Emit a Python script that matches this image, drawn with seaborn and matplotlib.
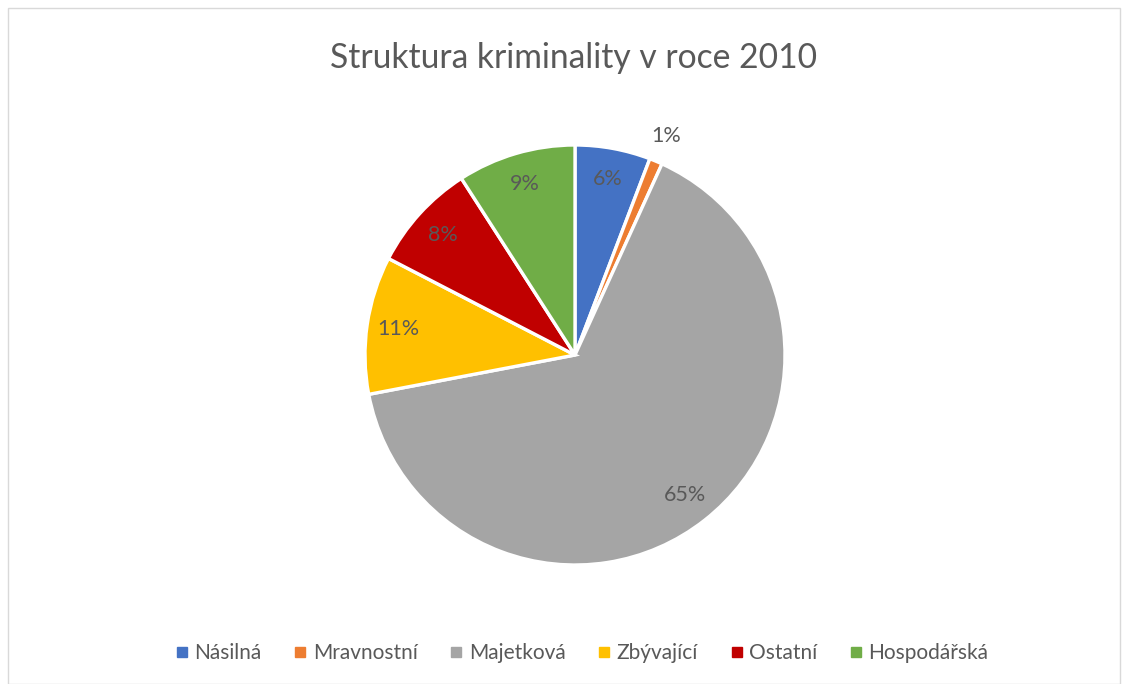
import matplotlib
matplotlib.use("Agg")
import seaborn as sns
from matplotlib import pyplot as plt
from matplotlib.patches import Rectangle
from matplotlib.lines import Line2D

# data (percent share)
categories = ['Násilná', 'Mravnostní', 'Majetková', 'Zbývající', 'Ostatní', 'Hospodářská']
shares = [5.8, 1.0, 65.2, 10.6, 8.3, 9.1]
colors = ['#4472C4', '#ED7D31', '#A5A5A5', '#FFC000', '#C00000', '#70AD47']
title = 'Struktura kriminality v roce 2010'

sns.set_theme(style='white')
plt.rcParams['font.family'] = ['Lato', 'DejaVu Sans']
text_color = '#595959'

fig = plt.figure(figsize=(11.29, 6.84), dpi=100)
fig.patch.set_facecolor('white')

# chart frame
fig.add_artist(Rectangle((8 / 1129, 0), 1112 / 1129, 676 / 684, transform=fig.transFigure,
                         fill=False, edgecolor='#D9D9D9', linewidth=1))

ax = fig.add_axes([365 / 1129, 119 / 684, 420 / 1129, 420 / 684])
wedges, texts, autotexts = ax.pie(
    shares, colors=colors, startangle=90, counterclock=False,
    autopct=lambda p: f'{p:.0f}%', pctdistance=0.85,
    wedgeprops=dict(edgecolor='white', linewidth=2.4),
    textprops=dict(color=text_color, fontsize=15.5),
)
# small slice label sits outside the pie
for t, s in zip(autotexts, shares):
    if s < 2:
        x, y = t.get_position()
        t.set_position((x * 1.13 / 0.85, y * 1.13 / 0.85))
ax.set_xlim(-1, 1)
ax.set_ylim(-1, 1)
ax.set_aspect('equal')

fig.text(574 / 1129, 1 - 58 / 684, title, ha='center', va='center', fontsize=24.2, color=text_color)

handles = [Line2D([], [], marker='s', linestyle='none', markersize=7,
                  markerfacecolor=c, markeredgecolor=c) for c in colors]
fig.legend(handles, categories, loc='center', bbox_to_anchor=(580 / 1129, 31 / 684), ncol=6,
           frameon=False, fontsize=15, labelcolor=text_color, handletextpad=0.1,
           columnspacing=1.35, handlelength=1.0)

fig.savefig('out.png', dpi=100, facecolor='white')
